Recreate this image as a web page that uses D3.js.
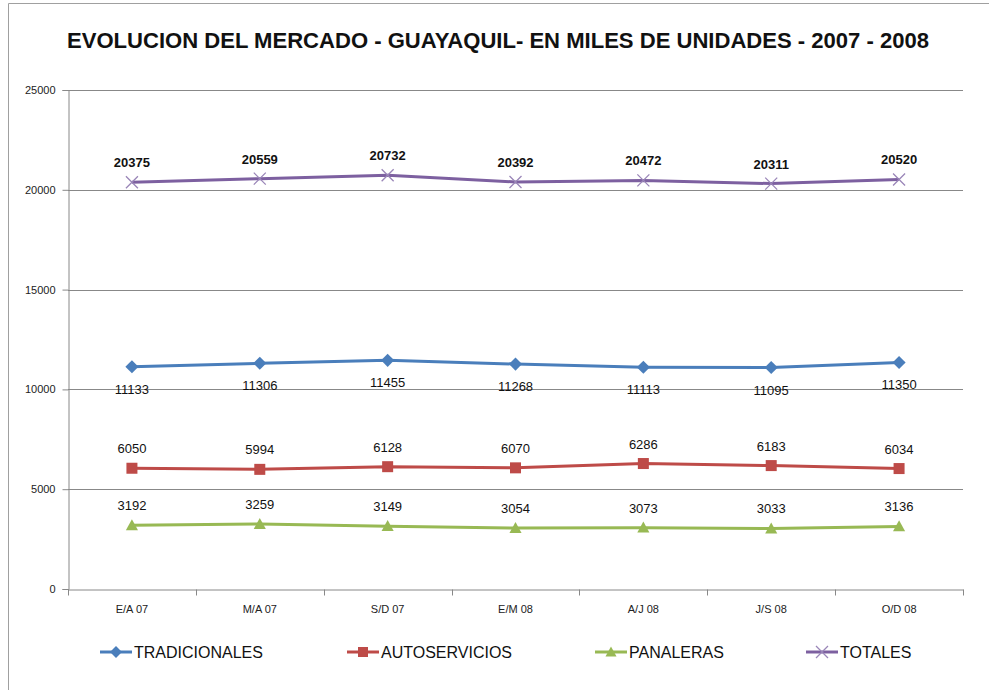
<!DOCTYPE html>
<html>
<head>
<meta charset="utf-8">
<script src="https://cdn.jsdelivr.net/npm/d3@7"></script>
<style>
  body { margin: 0; background: #fff; }
  svg { display: block; font-family: "Liberation Sans", Arial, sans-serif; }
</style>
</head>
<body>
<div id="chart"></div>
<script>
// data
const categories = ['E/A 07', 'M/A 07', 'S/D 07', 'E/M 08', 'A/J 08', 'J/S 08', 'O/D 08'];
const tradicionales = [11133, 11306, 11455, 11268, 11113, 11095, 11350];
const autoservicios = [6050, 5994, 6128, 6070, 6286, 6183, 6034];
const panaleras = [3192, 3259, 3149, 3054, 3073, 3033, 3136];
const totales = [20375, 20559, 20732, 20392, 20472, 20311, 20520];
const yTicks = [0, 5000, 10000, 15000, 20000, 25000];

const series = [
  { name: 'TRADICIONALES', values: tradicionales, color: '#4A7EBB', marker: 'diamond', labelPos: 'below', bold: false },
  { name: 'AUTOSERVICIOS', values: autoservicios, color: '#BE4B48', marker: 'square', labelPos: 'above', bold: false },
  { name: 'PANALERAS', values: panaleras, color: '#98B954', marker: 'triangle', labelPos: 'above', bold: false },
  { name: 'TOTALES', values: totales, color: '#7D60A0', marker: 'x', labelPos: 'above', bold: true }
];

const width = 989, height = 690;
const margin = { top: 90, right: 26, bottom: 101, left: 68 };
const chartWidth = width - margin.left - margin.right;
const chartHeight = height - margin.top - margin.bottom;

const svg = d3.select('#chart').append('svg')
  .attr('width', width)
  .attr('height', height);

// outer frame (left + top edges visible in the reference)
svg.append('path')
  .attr('d', `M8.5,${height} V3.5 H${width}`)
  .attr('fill', 'none')
  .attr('stroke', '#a0a0a0')
  .attr('stroke-width', 1);

// title
svg.append('text')
  .attr('x', 498)
  .attr('y', 48)
  .attr('text-anchor', 'middle')
  .attr('font-size', '22px')
  .attr('font-weight', 'bold')
  .attr('fill', '#111')
  .attr('textLength', 862)
  .attr('lengthAdjust', 'spacingAndGlyphs')
  .text('EVOLUCION DEL MERCADO - GUAYAQUIL- EN MILES DE UNIDADES - 2007 - 2008');

const g = svg.append('g').attr('transform', `translate(${margin.left},${margin.top})`);

const xScale = d3.scaleBand().domain(categories).range([0, chartWidth]);
const yScale = d3.scaleLinear().domain([0, 25000]).range([chartHeight, 0]);

// horizontal grid lines
g.append('g')
  .selectAll('line')
  .data(yTicks.filter(d => d > 0))
  .enter().append('line')
  .attr('x1', 0)
  .attr('x2', chartWidth)
  .attr('y1', d => Math.round(yScale(d)) + 0.5)
  .attr('y2', d => Math.round(yScale(d)) + 0.5)
  .attr('stroke', '#888');

// y axis
const yAxis = g.append('g')
  .attr('transform', 'translate(0.5,0)')
  .call(d3.axisLeft(yScale).tickValues(yTicks).tickSize(6).tickPadding(7).tickFormat(d3.format('d')));
yAxis.select('.domain').attr('stroke', '#888');
yAxis.selectAll('.tick line').attr('stroke', '#888');
yAxis.selectAll('.tick text').attr('font-size', '11px').attr('fill', '#222')
  .attr('font-family', '"Liberation Sans", Arial, sans-serif');

// x axis with tick marks on band boundaries
const xAxis = g.append('g')
  .attr('transform', `translate(0,${chartHeight + 0.5})`)
  .call(d3.axisBottom(xScale).tickSize(0).tickPadding(16));
xAxis.select('.domain').attr('stroke', '#888');
xAxis.selectAll('.tick text').attr('font-size', '11px').attr('fill', '#222')
  .attr('font-family', '"Liberation Sans", Arial, sans-serif');
xAxis.selectAll('.boundary')
  .data(categories.map(c => xScale(c)).concat([chartWidth]))
  .enter().append('line')
  .attr('x1', d => Math.round(d) + 0.5)
  .attr('x2', d => Math.round(d) + 0.5)
  .attr('y1', 0)
  .attr('y2', 6)
  .attr('stroke', '#888');

const cx = c => xScale(c) + xScale.bandwidth() / 2;

function drawMarker(sel, type, color, size) {
  if (type === 'diamond') {
    sel.append('path').attr('d', d3.symbol(d3.symbolDiamond2, size * size * 0.9)).attr('fill', color);
  } else if (type === 'square') {
    sel.append('rect').attr('x', -size / 2).attr('y', -size / 2).attr('width', size).attr('height', size).attr('fill', color);
  } else if (type === 'triangle') {
    sel.append('path').attr('d', `M0,${-size * 0.55} L${size * 0.55},${size * 0.45} L${-size * 0.55},${size * 0.45} Z`).attr('fill', color);
  } else if (type === 'x') {
    const s = size * 0.5;
    sel.append('path').attr('d', `M${-s},${-s} L${s},${s} M${-s},${s} L${s},${-s}`)
      .attr('stroke', '#9A86B8').attr('stroke-width', 1.3).attr('fill', 'none');
  }
}

const line = d3.line()
  .x(d => cx(d.cat))
  .y(d => yScale(d.value));

series.forEach(s => {
  const pts = categories.map((c, i) => ({ cat: c, value: s.values[i] }));
  const sg = g.append('g');

  sg.append('path')
    .datum(pts)
    .attr('fill', 'none')
    .attr('stroke', s.color)
    .attr('stroke-width', 3)
    .attr('stroke-linejoin', 'round')
    .attr('d', line);

  sg.selectAll('.marker')
    .data(pts)
    .enter().append('g')
    .attr('transform', d => `translate(${cx(d.cat)},${yScale(d.value)})`)
    .each(function () { drawMarker(d3.select(this), s.marker, s.color, s.marker === 'x' ? 12 : 11); });

  sg.selectAll('.label')
    .data(pts)
    .enter().append('text')
    .attr('x', d => cx(d.cat))
    .attr('y', d => yScale(d.value) + (s.labelPos === 'below' ? 27 : -15))
    .attr('text-anchor', 'middle')
    .attr('font-size', '13px')
    .attr('font-weight', s.bold ? 'bold' : 'normal')
    .attr('fill', '#111')
    .text(d => d.value);
});

// legend
const legendX = [100, 347, 595, 806];
const legend = svg.append('g').attr('transform', 'translate(0,652)');
series.forEach((s, i) => {
  const lg = legend.append('g').attr('transform', `translate(${legendX[i]},0)`);
  lg.append('line')
    .attr('x1', 0).attr('x2', 32)
    .attr('y1', 0).attr('y2', 0)
    .attr('stroke', s.color)
    .attr('stroke-width', 3);
  const m = lg.append('g').attr('transform', 'translate(16,0)');
  drawMarker(m, s.marker, s.color, s.marker === 'x' ? 12 : 10);
  lg.append('text')
    .attr('x', 34)
    .attr('y', 6)
    .attr('font-size', '16px')
    .attr('fill', '#111')
    .text(s.name);
});
</script>
</body>
</html>
